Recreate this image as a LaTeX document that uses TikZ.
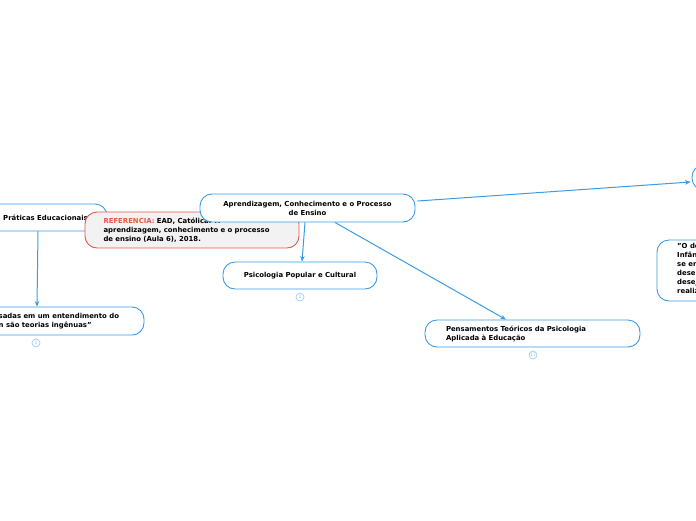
\documentclass[tikz,border=0pt]{standalone}
\usepackage{fontspec}
\setmainfont{DejaVu Sans}
\usetikzlibrary{calc,arrows.meta}
\definecolor{mmblue}{HTML}{3A9CE6}
\definecolor{mmlight}{HTML}{8EC8F2}
\definecolor{refred}{HTML}{E8574A}
\definecolor{refgray}{HTML}{F2F2F2}
\tikzset{
  topic/.style={draw=mmblue, line width=0.9pt, fill=white, rounded corners=12pt, inner sep=0pt,
    font=\fontsize{6.9}{9}\selectfont\bfseries},
  reftopic/.style={topic, draw=refred, fill=refgray},
  txt/.style={inner sep=0pt, font=\fontsize{6.9}{9}\selectfont\bfseries, align=left},
  conn/.style={draw=mmblue, line width=1pt, -{Stealth[length=5.5pt,width=4.5pt]}},
  badge/.style={circle, draw=mmlight, line width=0.6pt, fill=white, minimum size=8pt, inner sep=0pt,
    text=mmlight, font=\fontsize{4.5}{5}\selectfont}
}
\begin{document}
\begin{tikzpicture}[x=1pt,y=-1pt]
\useasboundingbox (0,0) rectangle (696,520);
\clip (0,0) rectangle (696,520);
% left branch
\node[topic, minimum width=123pt, minimum height=27pt] (prat) at (45.5,217.5) {Práticas Educacionais};
\node[topic, minimum width=204pt, minimum height=28pt] (bl) at (42,321) {};
\node[txt, anchor=north west] (blt) at (-1.5,313) {sadas em um entendimento do\\n são teorias ingênuas"};
\node[badge] (blb) at (36,343) {2};
% reference note
\node[reftopic, minimum width=214pt, minimum height=36pt, text width=177pt, align=left] (ref) at (192,230)
  {\textcolor{refred}{REFERENCIA:} EAD, Católica. A\\aprendizagem, conhecimento e o processo\\de ensino (Aula 6), 2018.};
% central
\node[topic, minimum width=215pt, minimum height=28pt, align=center] (main) at (307.5,208)
  {Aprendizagem, Conhecimento e o Processo\\de Ensino};
\node[topic, minimum width=154pt, minimum height=27pt] (psi) at (300,275.5) {Psicologia Popular e Cultural};
\node[badge] (psib) at (300,297) {2};
\node[topic, minimum width=215pt, minimum height=27pt, text width=173pt, align=left] (pens) at (532.5,333.5)
  {Pensamentos Teóricos da Psicologia\\Aplicada à Educação};
\node[badge] (pensb) at (533,355) {17};
% right side
\node[topic, minimum width=120pt, minimum height=25pt] (rtop) at (752,177.5) {};
\node[topic, minimum width=100pt, minimum height=61pt] (quote) at (707,270.5) {};
\node[txt, anchor=north west] (quotet) at (677,243.5) {"O de\\Infân\\se en\\desen\\desej\\realiz};
% connectors
\draw[conn] ([xshift=-7.5pt]prat.south) -- ([xshift=-5pt]bl.north);
\draw[conn] ([xshift=-2.5pt]main.south) -- ([xshift=2pt]psi.north);
\draw[conn] ([xshift=27.5pt]main.south) -- ([xshift=-26.5pt]pens.north);
\draw[conn] ([xshift=2pt,yshift=7pt]main.east) -- ([xshift=-1pt,yshift=-4.5pt]rtop.west);
\end{tikzpicture}
\end{document}
